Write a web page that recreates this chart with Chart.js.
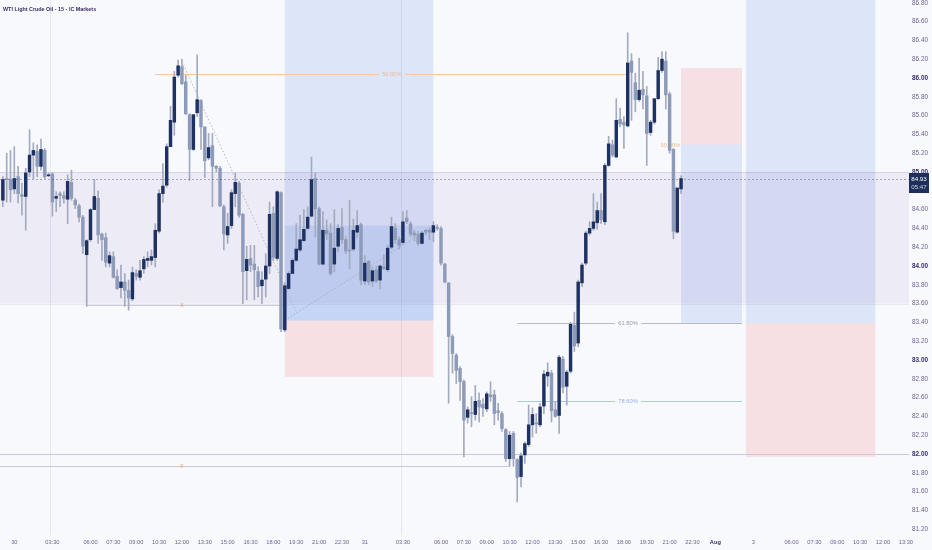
<!DOCTYPE html>
<html><head><meta charset="utf-8">
<script src="https://cdn.jsdelivr.net/npm/chart.js@4.4.1/dist/chart.umd.min.js"></script>
<style>html,body{margin:0;padding:0;background:#f8f9fd;}#wrap{width:932px;height:550px;position:relative;}</style>
</head><body><div id="wrap"><canvas id="c"></canvas></div>
<script>
// 15-minute bars; bar index 0 = session open of day "30"
const firstBarIndex = -3;
const opens = [84.70,84.93,84.92,84.82,84.95,84.76,84.74,85.00,85.18,85.22,85.06,85.23,84.96,84.98,84.72,84.77,84.75,84.71,84.89,84.70,84.64,84.52,84.12,84.28,84.60,84.72,84.34,84.30,84.03,84.10,83.89,
83.77,83.83,83.74,83.65,83.92,83.88,83.97,84.06,84.06,84.09,84.37,84.77,84.86,85.27,85.53,86.03,86.12,85.96,85.61,85.24,85.63,85.76,85.48,85.15,85.28,85.06,85.04,84.63,84.33,84.43,
84.77,84.88,84.55,83.95,84.08,84.02,83.94,83.79,83.86,84.00,84.56,84.08,84.78,83.32,83.76,83.92,84.06,84.17,84.27,84.40,84.53,84.93,84.61,84.02,84.38,84.35,84.02,84.21,84.41,84.28,
84.17,84.18,84.36,84.44,83.84,84.05,83.84,83.96,83.85,83.99,83.96,84.20,84.40,84.28,84.25,84.51,84.45,84.35,84.34,84.24,84.38,84.38,84.36,84.41,84.40,84.02,83.82,83.25,83.05,82.91,82.77,
82.39,82.44,82.42,82.57,82.53,82.48,82.63,82.63,82.46,82.43,82.26,81.95,82.22,81.94,81.76,81.99,82.10,82.31,82.33,82.31,82.51,82.83,82.86,82.47,82.41,83.01,82.72,82.88,83.37,83.18,83.82,84.03,84.35,
84.40,84.46,84.59,84.47,85.07,85.29,85.16,85.56,85.53,85.49,86.18,85.95,85.77,85.88,85.81,85.42,85.53,85.78,86.08,86.18,85.83,85.24,84.36,84.82];
const highs = [84.95,85.20,85.23,85.27,85.06,84.88,85.04,85.45,85.31,85.29,85.35,85.25,84.99,84.99,84.79,84.79,84.79,84.97,85.02,84.72,84.66,84.54,84.28,84.61,84.92,84.80,84.35,84.35,84.15,84.15,83.96,
84.01,83.92,83.85,83.99,83.96,84.06,84.10,84.15,84.17,84.45,84.81,85.09,85.30,85.70,86.07,86.19,86.20,86.03,85.62,85.61,86.245,85.77,85.48,85.41,85.41,85.07,85.06,84.65,84.56,84.81,
84.99,84.90,84.56,84.21,84.22,84.22,83.99,83.94,84.13,84.68,84.63,84.80,84.79,83.82,83.94,84.08,84.45,84.54,84.60,84.63,85.16,84.99,84.63,84.58,84.49,84.45,84.60,84.44,84.61,84.31,
84.70,84.50,84.59,84.46,84.11,84.06,83.99,84.00,84.01,84.12,84.22,84.52,84.45,84.31,84.58,84.59,84.47,84.38,84.37,84.37,84.39,84.40,84.47,84.44,84.42,84.03,83.82,83.27,83.07,82.93,82.79,
82.50,82.61,82.73,82.65,82.59,82.66,82.77,82.68,82.54,82.45,82.27,82.24,82.24,81.95,82.01,82.13,82.52,82.49,82.43,82.54,82.89,82.97,82.89,82.56,83.05,83.04,82.89,83.40,83.51,83.85,84.03,84.37,84.47,
84.77,84.68,84.77,85.09,85.38,85.34,85.78,85.68,85.59,86.48,86.26,86.05,86.21,86.07,85.91,85.55,85.78,86.22,86.28,86.28,85.85,85.25,84.83,84.96];
const lows = [84.63,84.68,84.68,84.77,84.67,84.54,84.38,84.95,84.93,84.95,85.02,84.93,84.95,84.53,84.58,84.63,84.67,84.45,84.70,84.61,84.47,84.135,83.57,84.26,84.60,84.24,84.06,83.99,83.99,83.87,83.75,
83.66,83.57,83.53,83.63,83.85,83.85,83.92,83.99,84.01,83.99,84.35,84.68,84.84,85.27,85.39,86.01,85.93,85.61,84.91,85.23,85.59,85.24,84.94,85.13,84.63,85.00,84.63,84.17,84.24,84.40,
84.63,84.52,83.60,83.64,83.94,83.64,83.67,83.60,83.67,83.92,84.06,84.06,83.30,83.30,83.75,83.92,84.05,84.15,84.26,84.39,84.52,84.31,84.01,84.01,84.28,83.90,83.94,84.15,84.24,84.13,
83.97,84.16,84.30,83.80,83.80,83.80,83.78,83.82,83.76,83.96,83.94,84.18,84.24,84.18,84.23,84.45,84.31,84.27,84.22,84.23,84.33,84.28,84.26,84.38,84.01,83.82,82.54,82.86,82.75,82.57,81.97,
82.33,82.29,82.36,82.34,82.40,82.45,82.56,82.31,82.36,82.24,81.92,81.87,81.87,81.49,81.65,81.90,82.08,82.18,82.22,82.29,82.43,82.72,82.34,82.39,82.22,82.65,82.52,82.86,83.09,83.14,83.78,84.01,84.33,
84.38,84.39,84.45,84.44,85.06,85.16,85.15,85.48,85.25,85.48,85.55,85.64,85.75,85.67,85.07,85.39,85.51,85.77,86.06,85.67,85.20,84.29,84.35,84.77];
const closes = [84.92,84.92,84.81,84.93,84.77,84.74,84.99,85.18,85.23,85.06,85.24,84.95,84.97,84.68,84.74,84.75,84.72,84.90,84.72,84.65,84.52,84.21,84.27,84.60,84.74,84.33,84.28,84.04,84.11,83.88,83.76,
83.83,83.74,83.66,83.93,83.89,83.95,84.07,84.08,84.10,84.38,84.77,84.85,85.27,85.55,86.01,86.13,85.94,85.62,85.24,85.61,85.77,85.48,85.12,85.26,85.06,85.04,84.64,84.34,84.42,84.78,
84.89,84.54,83.94,84.07,84.01,83.96,83.78,83.85,84.00,84.55,84.09,84.79,83.33,83.79,83.92,84.06,84.18,84.28,84.39,84.52,84.92,84.61,84.02,84.38,84.34,83.92,84.19,84.40,84.28,84.16,
84.16,84.38,84.43,83.85,84.03,83.83,83.95,83.84,84.00,83.97,84.19,84.42,84.28,84.22,84.47,84.47,84.34,84.33,84.24,84.35,84.36,84.36,84.43,84.40,84.03,83.83,83.25,83.07,82.89,82.77,82.36,
82.47,82.43,82.56,82.50,82.49,82.64,82.61,82.43,82.44,82.27,81.95,82.20,81.95,81.75,81.98,82.11,82.31,82.42,82.32,82.50,82.85,82.87,82.46,82.40,83.03,82.71,82.87,83.38,83.15,83.83,84.01,84.35,84.40,
84.47,84.59,84.49,85.07,85.30,85.18,85.55,85.51,85.50,86.16,86.06,85.77,85.87,85.82,85.41,85.53,85.78,86.08,86.20,85.82,85.23,84.37,84.83,84.93];

const xTickPos = [0,10,20,26,32,38,44,50,56,62,68,74,80,86,92,102,112,118,124,130,136,142,148,154,160,166,172,178,184,194,204,210,216,222,228,234];
const xTickLabels = ['30','03:30','06:00','07:30','09:00','10:30','12:00','13:30','15:00','16:30','18:00','19:30','21:00','22:30','31','03:30','06:00','07:30','09:00','10:30','12:00','13:30','15:00','16:30','18:00','19:30','21:00','22:30','Aug','3','06:00','07:30','09:00','10:30','12:00','13:30'];
const boldXLabels = ['Aug'];
const yTickValues = [81.2,81.4,81.6,81.8,82.0,82.2,82.4,82.6,82.8,83.0,83.2,83.4,83.6,83.8,84.0,84.2,84.4,84.6,84.8,85.0,85.2,85.4,85.6,85.8,86.0,86.2,86.4,86.6,86.8];

const title = 'WTI Light Crude Oil - 15 - IC Markets';
const lastPrice = 84.93;
const countdown = '05:47';

const UP = '#1e3163', DOWN = '#8e9bb8', WICK = '#a3abc0';
const FONT = "'Liberation Sans', Arial, sans-serif";

const xs = opens.map((_, k) => firstBarIndex + k);
const isUp = closes.map((c, k) => c >= opens[k]);
const wickData = xs.map((x, k) => ({x, y: [lows[k], highs[k]]}));
const bodyData = xs.map((x, k) => ({x, y: [opens[k], closes[k]]}));

const annot = {
  id: 'annot',
  beforeDraw(chart) {
    const c = chart.ctx; c.save(); c.fillStyle = '#f8f9fd'; c.fillRect(0, 0, chart.width, chart.height); c.restore();
  },
  beforeDatasetsDraw(chart) {
    const {ctx, chartArea: a, scales: {x, y}} = chart;
    const X = v => x.getPixelForValue(v), Y = v => y.getPixelForValue(v);
    const box = (i1, p1, i2, p2, col) => { ctx.fillStyle = col; ctx.fillRect(X(i1), Y(p1), X(i2) - X(i1), Y(p2) - Y(p1)); };
    const hline = (i1, i2, p, col, dash) => { ctx.strokeStyle = col; ctx.lineWidth = 1; ctx.setLineDash(dash || []); ctx.beginPath(); ctx.moveTo(X(i1), Math.round(Y(p)) + 0.5); ctx.lineTo(X(i2), Math.round(Y(p)) + 0.5); ctx.stroke(); ctx.setLineDash([]); };
    const seg = (i1, p1, i2, p2, col, dash) => { ctx.strokeStyle = col; ctx.lineWidth = 1; ctx.setLineDash(dash || []); ctx.beginPath(); ctx.moveTo(X(i1), Y(p1)); ctx.lineTo(X(i2), Y(p2)); ctx.stroke(); ctx.setLineDash([]); };
    const label = (txt, i, p, col, align, size) => { ctx.fillStyle = col; ctx.font = (size || 5.8) + 'px ' + FONT; ctx.textAlign = align || 'center'; ctx.textBaseline = 'middle'; ctx.fillText(txt, X(i), Y(p)); };
    const fibLine = (i1, i2, p, col, txt, li, lcol) => {
      const gap = 13 / 3.81;
      hline(i1, li - gap, p, col); hline(li + gap, i2, p, col); label(txt, li, p, lcol);
    };
    ctx.save();
    ctx.beginPath(); ctx.rect(a.left, a.top, a.right - a.left, a.bottom - a.top); ctx.clip();
    const L = x.min, R = x.max;
    // faint vertical separators
    ctx.strokeStyle = '#e7e7ef'; ctx.lineWidth = 1;
    [9.5, 101.5].forEach(v => { ctx.beginPath(); ctx.moveTo(Math.round(X(v)) + 0.5, a.top); ctx.lineTo(Math.round(X(v)) + 0.5, a.bottom); ctx.stroke(); });
    // long position (left)
    box(71, 88, 110, 83.42, 'rgba(60,120,230,0.14)');
    box(71, 84.43, 110, 83.42, 'rgba(60,120,230,0.15)');
    box(71, 83.42, 110, 82.82, 'rgba(240,80,80,0.14)');
    // short position (middle right)
    box(175, 86.106, 191, 85.29, 'rgba(240,80,80,0.14)');
    box(175, 85.29, 191, 83.394, 'rgba(60,120,230,0.14)');
    // long position (far right)
    box(192, 88, 226, 83.394, 'rgba(60,120,230,0.14)');
    box(192, 83.394, 226, 81.968, 'rgba(240,80,80,0.14)');
    // range box
    box(L, 85.0, R, 83.60, 'rgba(100,60,140,0.07)');
    hline(L, R, 85.0, 'rgba(120,100,160,0.18)');
    hline(L, R, 83.60, 'rgba(120,100,160,0.12)');
    // horizontal levels
    hline(L, R, 82.0, '#cbc8da');
    hline(L, 130, 81.872, '#cbc8da');
    hline(19, 71, 83.585, '#cbc8da');
    label('x', 44, 83.585, '#f0a26a', 'center', 6.5);
    label('x', 44, 81.872, '#f0a26a', 'center', 6.5);
    // fib levels
    fibLine(37, 161, 86.043, '#f6c9a4', '50.00%', 99.1, '#f2b98a');
    fibLine(132, 191, 83.394, '#b9b7c8', '61.80%', 161.1, '#9a98ae');
    fibLine(132, 191, 82.559, '#abc7f1', '78.60%', 161.1, '#8fb3ea');
    label('50.00%', 174.8, 85.287, '#f2b98a', 'right');
    // dotted trend lines
    seg(44.4, 86.14, 74.2, 83.50, '#b7b7c6', [1.5, 2]);
    seg(71, 83.42, 110, 84.43, '#a8aec4', [1.5, 2]);
    ctx.restore();
  },
  afterDraw(chart) {
    const {ctx, chartArea: a, scales: {x, y}} = chart;
    const py = Math.round(y.getPixelForValue(lastPrice)) + 0.5;
    ctx.save();
    ctx.strokeStyle = 'rgba(40,50,100,0.35)'; ctx.setLineDash([2, 2]); ctx.lineWidth = 1;
    ctx.beginPath(); ctx.moveTo(a.left, py); ctx.lineTo(a.right, py); ctx.stroke(); ctx.setLineDash([]);
    // price tag
    ctx.fillStyle = '#1e2f5a';
    ctx.fillRect(a.right, py - 6.5, 20, 20);
    ctx.fillStyle = '#ffffff'; ctx.font = '6.2px ' + FONT; ctx.textAlign = 'center'; ctx.textBaseline = 'middle';
    ctx.fillText(lastPrice.toFixed(2), a.right + 10, py - 0.5);
    ctx.fillStyle = '#c9d0e3';
    ctx.fillText(countdown, a.right + 10, py + 7.5);
    // title
    ctx.fillStyle = '#3a2d68'; ctx.font = 'bold 5.4px ' + FONT; ctx.textAlign = 'left'; ctx.textBaseline = 'middle';
    ctx.fillText(title, 3, 9.5);
    ctx.restore();
  }
};

new Chart(document.getElementById('c'), {
  type: 'bar',
  data: {
    datasets: [
      {data: wickData, backgroundColor: xs.map(() => WICK), barThickness: 1, grouped: false, borderWidth: 0, order: 2},
      {data: bodyData, backgroundColor: isUp.map(u => u ? UP : DOWN), barThickness: 2.8, grouped: false, borderWidth: 0, order: 1}
    ]
  },
  options: {
    responsive: true, maintainAspectRatio: false, animation: false,
    layout: {padding: 0},
    plugins: {legend: {display: false}, tooltip: {enabled: false}, title: {display: false}},
    scales: {
      x: {
        type: 'linear', offset: false, min: -3.753, max: 234.83,
        grid: {display: false, drawTicks: false}, border: {display: false},
        afterBuildTicks: s => { s.ticks = xTickPos.map(v => ({value: v})); },
        afterFit: s => { s.height = 15; s.paddingLeft = 0; s.paddingRight = 0; },
        ticks: {
          autoSkip: false, maxRotation: 0, padding: 4,
          callback: v => { const k = xTickPos.indexOf(v); return k >= 0 ? xTickLabels[k] : ''; },
          font: c => ({family: FONT, size: 5.7, weight: boldXLabels.includes(xTickLabels[xTickPos.indexOf(c.tick && c.tick.value)]) ? 'bold' : 'normal'}),
          color: c => boldXLabels.includes(xTickLabels[xTickPos.indexOf(c.tick && c.tick.value)]) ? '#3a2d68' : '#6e6391'
        }
      },
      y: {
        type: 'linear', position: 'right', min: 81.138, max: 86.83,
        grid: {display: false, drawTicks: false}, border: {display: false},
        afterBuildTicks: s => { s.ticks = yTickValues.map(v => ({value: v})); },
        afterFit: s => { s.width = 23; s.paddingTop = 0; s.paddingBottom = 0; },
        ticks: {
          padding: 3,
          callback: v => Number(v).toFixed(2),
          font: c => ({family: FONT, size: 6.4, weight: (c.tick && Math.abs(c.tick.value - Math.round(c.tick.value)) < 1e-6) ? 'bold' : 'normal'}),
          color: c => (c.tick && Math.abs(c.tick.value - Math.round(c.tick.value)) < 1e-6) ? '#3a2d68' : '#6e6391'
        }
      }
    }
  },
  plugins: [annot]
});
</script></body></html>
